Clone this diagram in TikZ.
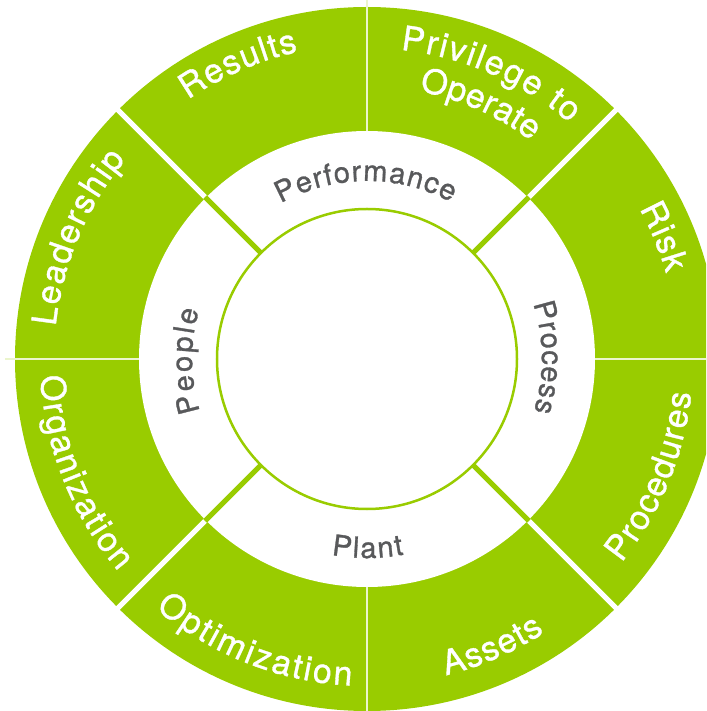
\documentclass[tikz,border=0pt]{standalone}
\usepackage{fontspec}
\setmainfont{TeX Gyre Heros}
\newfontfamily\labfont[FakeBold=1]{TeX Gyre Heros}
\usetikzlibrary{decorations.text}
\definecolor{ringgreen}{RGB}{153,204,0}
\definecolor{labgray}{RGB}{88,89,91}
\newcommand\outerlab{\color{white}\labfont\fontsize{34}{34}\selectfont}
\newcommand\innerlab{\color{labgray}\labfont\fontsize{29}{29}\selectfont}
\tikzset{
  arclabel/.style={decorate, decoration={text along path, text align={fit to path}, text={#1}}},
  bigsep/.style={white, line width=5pt},
  thinsep/.style={white!80!ringgreen, line width=1.3pt},
  greensep/.style={ringgreen, line width=5pt},
}
\begin{document}
\begin{tikzpicture}[x=1pt,y=1pt]
\useasboundingbox (-367,-352) rectangle (339,359);
\clip (-367,-352) rectangle (339,359);
\coordinate (c) at (0,0);
% rings
\fill[ringgreen] (c) circle[radius=352pt];
\fill[white] (c) circle[radius=228pt];
\foreach \a in {45,135,225,315} \draw[bigsep] (\a:226pt) -- (\a:362pt);
\foreach \a in {0,90,180,270} \draw[thinsep] (\a:228pt) -- (\a:362pt);
\foreach \a in {45,135,225,315} \draw[greensep] (\a:149pt) -- (\a:229pt);
\draw[ringgreen, line width=2.5pt, fill=white] (c) circle[radius=150pt];
% outer labels, upper half (clockwise)
\path[arclabel={|\outerlab|Results}] (124.6:315pt) arc[start angle=124.6, end angle=102.6, radius=315pt];
\path[arclabel={|\outerlab|Privilege to}] (83.8:311pt) arc[start angle=83.8, end angle=49.3, radius=311pt];
\path[arclabel={|\outerlab|Operate}] (79:273pt) arc[start angle=79, end angle=53, radius=273pt];
\path[arclabel={|\outerlab|Leadership}] (174:313pt) arc[start angle=174, end angle=140.4, radius=313pt];
\path[arclabel={|\outerlab|Risk}] (28.9:311pt) arc[start angle=28.9, end angle=16.0, radius=311pt];
% outer labels, lower half (counter-clockwise)
\path[arclabel={|\outerlab|Procedures}] (-38.7:326pt) arc[start angle=-38.7, end angle=-6.0, radius=326pt];
\path[arclabel={|\outerlab|Assets}] (-76:326pt) arc[start angle=-76, end angle=-57, radius=326pt];
\path[arclabel={|\outerlab|Optimization}] (-130.3:327pt) arc[start angle=-130.3, end angle=-92.7, radius=327pt];
\path[arclabel={|\outerlab|Organization}] (183:327pt) arc[start angle=183, end angle=220.5, radius=327pt];
% inner labels
\path[arclabel={|\innerlab|Performance}] (119:178pt) arc[start angle=119, end angle=61.8, radius=178pt];
\path[arclabel={|\innerlab|Process}] (18.4:175pt) arc[start angle=18.4, end angle=-17.5, radius=175pt];
\path[arclabel={|\innerlab|People}] (197.4:175pt) arc[start angle=197.4, end angle=163.8, radius=175pt];
\path[arclabel={|\innerlab|Plant}] (-100.3:199pt) arc[start angle=-100.3, end angle=-79.3, radius=199pt];
\end{tikzpicture}
\end{document}
